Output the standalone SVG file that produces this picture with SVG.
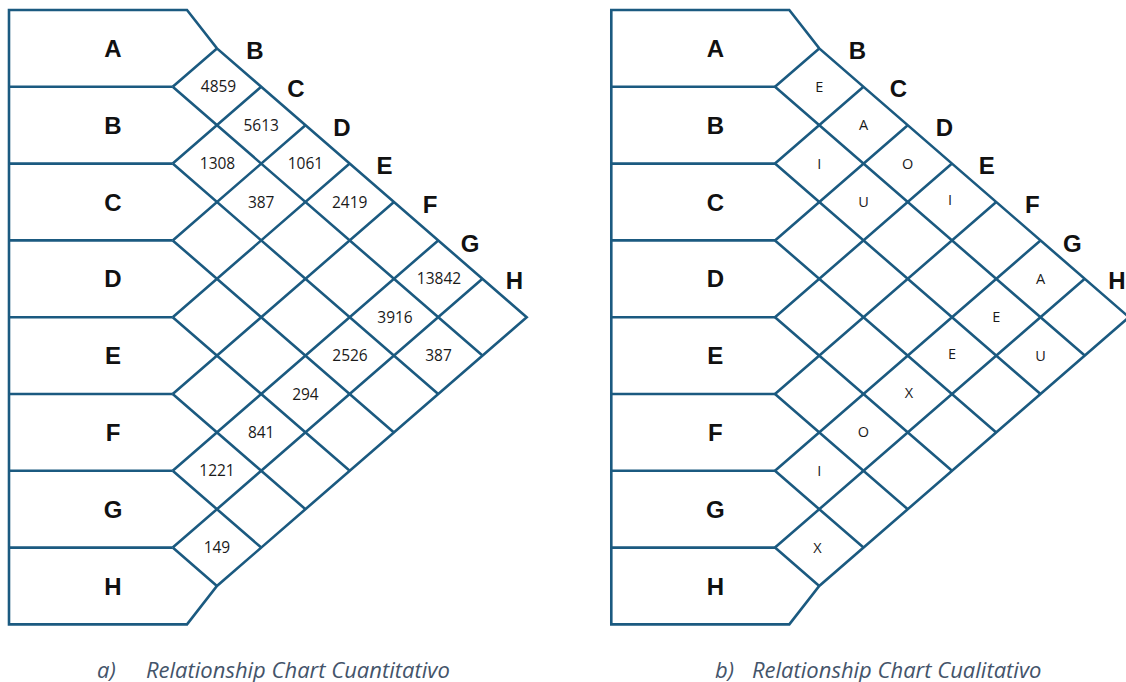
<svg xmlns="http://www.w3.org/2000/svg" xmlns:xlink="http://www.w3.org/1999/xlink" width="1126" height="682" viewBox="0 0 1126 682">
<style>
.ln{fill:none;stroke:#1b5a80;stroke-width:2.6;stroke-linejoin:miter}
.ol{fill:#ffffff;stroke:#1b5a80;stroke-width:2.6;stroke-linejoin:miter}
.hd{font-family:"Liberation Sans",Arial,sans-serif;font-weight:bold;font-size:24px;fill:#111111;text-anchor:middle}
.num{font-family:"Open Sans","Noto Sans",sans-serif;font-size:15.5px;fill:#1a1a1a;text-anchor:middle}
.let{font-family:"Open Sans","Noto Sans",sans-serif;font-size:14.5px;fill:#1a1a1a;text-anchor:middle}
.cap{font-family:"Open Sans","Noto Sans",sans-serif;font-style:italic;font-size:22px;fill:#44546a}
</style>
<defs>
<g id="grid">
<path class="ol" d="M9,10 H187 L216.95,48.4 L526.7,317.2 L216.95,586 L187,624.4 H9 Z"/>
<path class="ln" d="M9,86.8 H172.7 M9,163.6 H172.7 M9,240.4 H172.7 M9,317.2 H172.7 M9,394 H172.7 M9,470.8 H172.7 M9,547.6 H172.7"/>
<path class="ln" d="M172.7,86.8 L482.45,355.6 M172.7,163.6 L438.2,394 M172.7,240.4 L393.95,432.4 M172.7,317.2 L349.7,470.8 M172.7,394 L305.45,509.2 M172.7,470.8 L261.2,547.6 M172.7,547.6 L216.95,586"/>
<path class="ln" d="M172.7,86.8 L216.95,48.4 M172.7,163.6 L261.2,86.8 M172.7,240.4 L305.45,125.2 M172.7,317.2 L349.7,163.6 M172.7,394 L393.95,202 M172.7,470.8 L438.2,240.4 M172.7,547.6 L482.45,278.8"/>
<g id="rowlabels">
<text class="hd" x="113" y="57">A</text>
<text class="hd" x="113" y="133.8">B</text>
<text class="hd" x="113" y="210.6">C</text>
<text class="hd" x="113" y="287.4">D</text>
<text class="hd" x="113" y="364.2">E</text>
<text class="hd" x="113" y="441">F</text>
<text class="hd" x="113" y="517.8">G</text>
<text class="hd" x="113" y="594.6">H</text>
</g>
<g id="collabels">
<text class="hd" x="255" y="59">B</text>
<text class="hd" x="296" y="97">C</text>
<text class="hd" x="342" y="135.5">D</text>
<text class="hd" x="384.5" y="173.8">E</text>
<text class="hd" x="430" y="212.5">F</text>
<text class="hd" x="470" y="251.5">G</text>
<text class="hd" x="514.5" y="288.8">H</text>
</g>
</g>
</defs>

<g id="chart-a">
<use xlink:href="#grid" href="#grid"/>
<g id="values-a">
<text class="num" x="218.5" y="92.3">4859</text>
<text class="num" x="261.2" y="130.7">5613</text>
<text class="num" x="217.5" y="169.1">1308</text>
<text class="num" x="305.45" y="169.1">1061</text>
<text class="num" x="261.2" y="207.5">387</text>
<text class="num" x="349.7" y="207.5">2419</text>
<text class="num" x="439" y="284.3">13842</text>
<text class="num" x="395" y="322.7">3916</text>
<text class="num" x="350" y="361.1">2526</text>
<text class="num" x="438.5" y="361.1">387</text>
<text class="num" x="305.45" y="399.5">294</text>
<text class="num" x="261.2" y="437.9">841</text>
<text class="num" x="217" y="476.3">1221</text>
<text class="num" x="216.95" y="553.1">149</text>
</g>
<g id="caption-a">
<text class="cap" x="97" y="678">a)</text>
<text class="cap" x="146" y="678">Relationship Chart Cuantitativo</text>
</g>
</g>

<g id="chart-b">
<use xlink:href="#grid" href="#grid" transform="translate(602.3,0)"/>
<g id="values-b">
<text class="let" x="819.25" y="91.8">E</text>
<text class="let" x="863.5" y="130.2">A</text>
<text class="let" x="819.25" y="168.6">I</text>
<text class="let" x="907.75" y="168.6">O</text>
<text class="let" x="863.5" y="207">U</text>
<text class="let" x="950" y="205">I</text>
<text class="let" x="1040.5" y="283.8">A</text>
<text class="let" x="996.25" y="322.2">E</text>
<text class="let" x="1040.5" y="360.6">U</text>
<text class="let" x="952" y="359">E</text>
<text class="let" x="909" y="397.5">X</text>
<text class="let" x="863.5" y="437.4">O</text>
<text class="let" x="819.25" y="475.8">I</text>
<text class="let" x="817.5" y="552.6">X</text>
</g>
<g id="caption-b">
<text class="cap" x="715" y="678">b)</text>
<text class="cap" x="752" y="678">Relationship Chart Cualitativo</text>
</g>
</g>
</svg>
